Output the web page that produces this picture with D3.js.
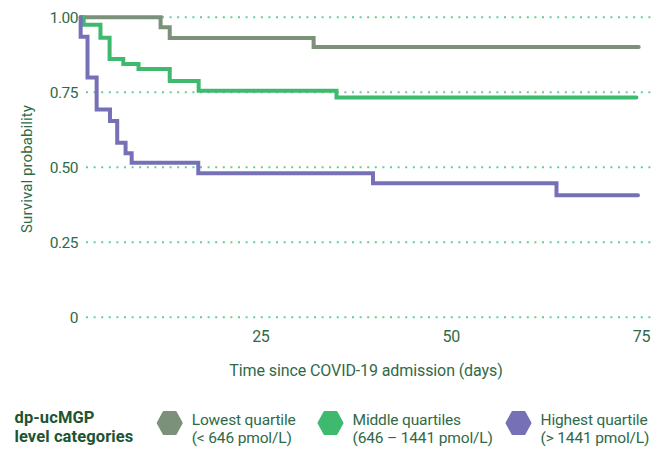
<!DOCTYPE html>
<html>
<head>
<meta charset="utf-8">
<script src="https://cdn.jsdelivr.net/npm/d3@7"></script>
<style>
  html, body { margin: 0; padding: 0; background: #fff; }
  svg { display: block; font-family: Roboto, "Noto Sans", sans-serif; }
</style>
</head>
<body>
<svg id="chart" width="665" height="450"></svg>
<script>
// Kaplan-Meier survival estimates by dp-ucMGP level category
const lowTimes  = [1.4, 11.9, 13.1, 32.0, 74.7];
const lowSurv   = [1.0, 0.967, 0.931, 0.901, 0.901];

const midTimes  = [1.4, 1.8, 4.0, 5.2, 7.0, 9.0, 13.1, 16.9, 35.0, 74.4];
const midSurv   = [1.0, 0.975, 0.932, 0.861, 0.844, 0.828, 0.788, 0.755, 0.733, 0.733];

const highTimes = [1.4, 1.4, 2.3, 3.5, 5.25, 6.2, 7.3, 8.1, 16.85, 39.8, 63.9, 74.6];
const highSurv  = [1.0, 0.935, 0.799, 0.693, 0.654, 0.582, 0.547, 0.515, 0.48, 0.447, 0.407, 0.407];

const xTicks = [25, 50, 75];
const yTicks = [0, 0.25, 0.5, 0.75, 1.0];
const yTickLabels = ["0", "0.25", "0.50", "0.75", "1.00"];

const groupNames  = ["Lowest quartile", "Middle quartiles", "Highest quartile"];
const groupRanges = ["(< 646 pmol/L)", "(646 \u2013 1441 pmol/L)", "(> 1441 pmol/L)"];
const groupColors = ["#7b9179", "#3fb96d", "#7671b7"];

const series = [
  { times: lowTimes,  surv: lowSurv,  color: groupColors[0] },
  { times: midTimes,  surv: midSurv,  color: groupColors[1] },
  { times: highTimes, surv: highSurv, color: groupColors[2] }
];

const svg = d3.select("#chart");
const textColor = "#2f6a48";

const x = d3.scaleLinear().domain([0, 75]).range([70, 641]);
const y = d3.scaleLinear().domain([0, 1]).range([317.3, 17.3]);

// dotted horizontal gridlines
svg.append("g")
  .selectAll("line")
  .data(yTicks)
  .join("line")
  .attr("x1", 86).attr("x2", 652)
  .attr("y1", d => y(d)).attr("y2", d => y(d))
  .attr("stroke", "#63cf92")
  .attr("stroke-width", 2)
  .attr("stroke-dasharray", "2 5.6");

// y axis tick labels
const yAxis = d3.axisLeft(y)
  .tickValues(yTicks)
  .tickSize(0)
  .tickPadding(0)
  .tickFormat((d, i) => yTickLabels[i]);
const gy = svg.append("g").attr("transform", "translate(78,0)").call(yAxis);
gy.select(".domain").remove();
gy.selectAll("text")
  .attr("fill", textColor)
  .style("font-family", "Roboto, sans-serif")
  .style("font-size", "15.5px")
  .style("letter-spacing", "-0.5px");

// x axis tick labels
const xAxis = d3.axisBottom(x)
  .tickValues(xTicks)
  .tickSize(0)
  .tickPadding(0)
  .tickFormat(d3.format("d"));
const gx = svg.append("g").attr("transform", "translate(0,331)").call(xAxis);
gx.select(".domain").remove();
gx.selectAll("text")
  .attr("fill", textColor)
  .style("font-family", "Roboto, sans-serif")
  .style("font-size", "16px")
  .style("letter-spacing", "-0.3px");

// axis titles
svg.append("text")
  .attr("transform", "translate(32,169) rotate(-90)")
  .attr("text-anchor", "middle")
  .attr("fill", textColor)
  .style("font-size", "15px")
  .style("letter-spacing", "0.1px")
  .text("Survival probability");

svg.append("text")
  .attr("x", 366).attr("y", 376)
  .attr("text-anchor", "middle")
  .attr("fill", textColor)
  .style("font-size", "16px")
  .style("letter-spacing", "-0.1px")
  .text("Time since COVID-19 admission (days)");

// survival step curves
const line = d3.line()
  .x(d => x(d[0]))
  .y(d => y(d[1]))
  .curve(d3.curveStepAfter);

svg.append("g")
  .selectAll("path")
  .data(series)
  .join("path")
  .attr("d", s => line(s.times.map((t, i) => [t, s.surv[i]])))
  .attr("fill", "none")
  .attr("stroke", s => s.color)
  .attr("stroke-width", 4)
  .attr("stroke-linecap", "round")
  .attr("stroke-linejoin", "miter");

// legend
const legend = svg.append("g");
legend.append("text")
  .attr("x", 14.5).attr("y", 423)
  .attr("fill", "#1d5431")
  .style("font-size", "16.5px")
  .style("font-weight", "700")
  .style("letter-spacing", "0.1px")
  .text("dp-ucMGP");
legend.append("text")
  .attr("x", 14.5).attr("y", 441.5)
  .attr("fill", "#1d5431")
  .style("font-size", "16.5px")
  .style("font-weight", "700")
  .style("letter-spacing", "0.1px")
  .text("level categories");

const hex = "M-12,0 L-6,-11 L6,-11 L12,0 L6,11 L-6,11 Z";
const itemX = [169.7, 330.5, 518.5];

const items = legend.selectAll("g.item")
  .data(groupNames)
  .join("g")
  .attr("class", "item")
  .attr("transform", (d, i) => `translate(${itemX[i]},423)`);

items.append("path")
  .attr("d", hex)
  .attr("fill", (d, i) => groupColors[i])
  .attr("stroke", (d, i) => groupColors[i])
  .attr("stroke-width", 2)
  .attr("stroke-linejoin", "round");

items.append("text")
  .attr("x", 22).attr("y", 2)
  .attr("fill", textColor)
  .style("font-size", "15.5px")
  .style("letter-spacing", "-0.15px")
  .text(d => d);

items.append("text")
  .attr("x", 22).attr("y", 19.5)
  .attr("fill", textColor)
  .style("font-size", "15.5px")
  .style("letter-spacing", "-0.15px")
  .text((d, i) => groupRanges[i]);
</script>
</body>
</html>
